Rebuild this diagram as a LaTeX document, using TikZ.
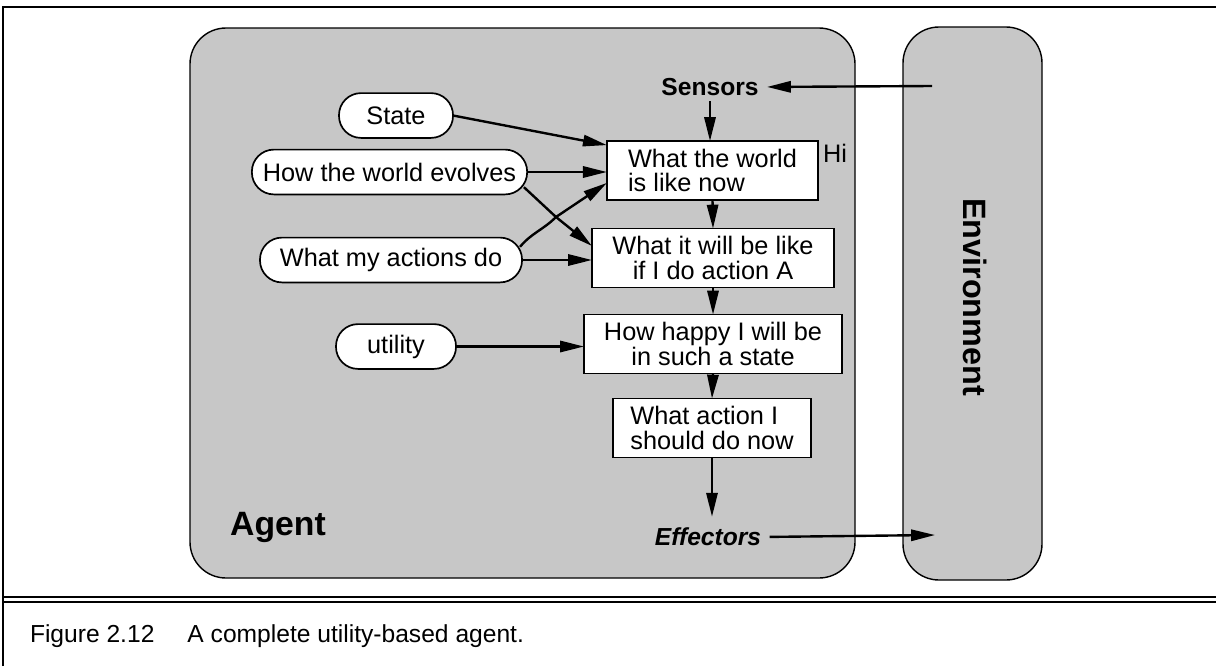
\documentclass[tikz,border=0pt]{standalone}
\usepackage{fontspec}
\setmainfont{Liberation Sans}
\usepackage{xcolor}
\usepackage{tikz}
\usetikzlibrary{arrows.meta, positioning}

\begin{document}
\begin{tikzpicture}[x=0.025cm,y=-0.025cm,inner sep=0pt,outer sep=0pt,
  every node/.style={font=\fontsize{18}{17.5}\selectfont},
  panel/.style={draw=black,line width=1pt,fill=black!22,rounded corners=0.9cm},
  boxnode/.style={draw=black,line width=1.2pt,fill=white,minimum height=1.47cm},
  oval/.style={draw=black,line width=1.2pt,fill=white,rounded corners=0.55cm,minimum height=1.12cm},
  flow/.style={line width=1.7pt,-{Triangle[length=17pt,width=8pt]}},
  flowline/.style={line width=1.7pt},
  bigtext/.style={font=\fontsize{17.5}{19}\selectfont\bfseries}]
\useasboundingbox (0,0) rectangle (1216,666);
\draw[line width=0.8pt] (3,666) -- (3,7) -- (1216,7);
\draw[line width=0.8pt] (3,597) -- (1216,597);
\draw[line width=0.8pt] (3,602) -- (1216,602);
\draw[panel] (190,28) rectangle (855,578);
\draw[panel] (903,27) rectangle (1042,580);

\node[boxnode,align=left,minimum width=5.28cm] (world) at (712.5,170.5) {What the world\\is like now};
\node[boxnode,align=center,minimum width=6.05cm] (future) at (713,258) {What it will be like\\if I do action A};
\node[boxnode,align=center,minimum width=6.45cm] (happy) at (713,344) {How happy I will be\\in such a state};
\node[boxnode,align=left,minimum width=4.95cm] (act) at (712,428) {What action I\\should do now};

\node[oval,minimum width=2.85cm] (state) at (396,115.5) {State};
\node[oval,minimum width=6.88cm] (evolves) at (389.5,172) {How the world evolves};
\node[oval,minimum width=6.55cm] (myacts) at (391,260) {What my actions do};
\node[oval,minimum width=3cm] (utility) at (396,346.5) {utility};

\node[bigtext] (sensors) at (710,87) {Sensors};
\node[bigtext] (effectors) at (708,537) {\itshape Effectors};
\node[font=\fontsize{24}{26}\selectfont\bfseries] (agent) at (278,527) {Agent};
\node[font=\fontsize{23}{25}\selectfont\bfseries,rotate=-90] (env) at (975,297) {Environment};
\node (hi) at (835,153) {Hi};

\coordinate (envin) at (932,86);
\coordinate (envout) at (935,535);
\coordinate (jn) at (556,217);

\draw[flow,shorten >=6pt] (envin) -- (sensors.east);
\draw[flow,shorten <=4pt] (sensors.south) -- (sensors.south |- world.north);
\draw[flow] (state.east) -- ([yshift=-0.1cm]world.north west);
\draw[flow] (evolves.east) -- (evolves.east -| world.west);
\draw[flowline] ([xshift=-0.08cm,yshift=-0.38cm]evolves.east) -- (jn);
\draw[flow] (jn) -- ([yshift=-0.31cm]world.west);
\draw[flowline] ([xshift=-0.05cm,yshift=0.33cm]myacts.east) to[out=50,in=225] (jn);
\draw[flow] (jn) -- ([yshift=0.3cm]future.west);
\draw[flow] (myacts.east) -- (myacts.east -| future.west);
\draw[flow] (utility.east) -- (utility.east -| happy.west);
\draw[flow] (world.south) -- (future.north);
\draw[flow] (future.south) -- (happy.north);
\draw[flow] (happy.south) -- (act.north);
\draw[flow,shorten >=8pt] (act.south) -- (act.south |- effectors.north);
\draw[flow,shorten <=6pt] (effectors.east) -- (envout);

\node[anchor=west,font=\fontsize{17.5}{19}\selectfont] (caption) at (30,636) {\makebox[112pt][l]{Figure 2.12}A complete utility-based agent.};
\end{tikzpicture}
\end{document}
